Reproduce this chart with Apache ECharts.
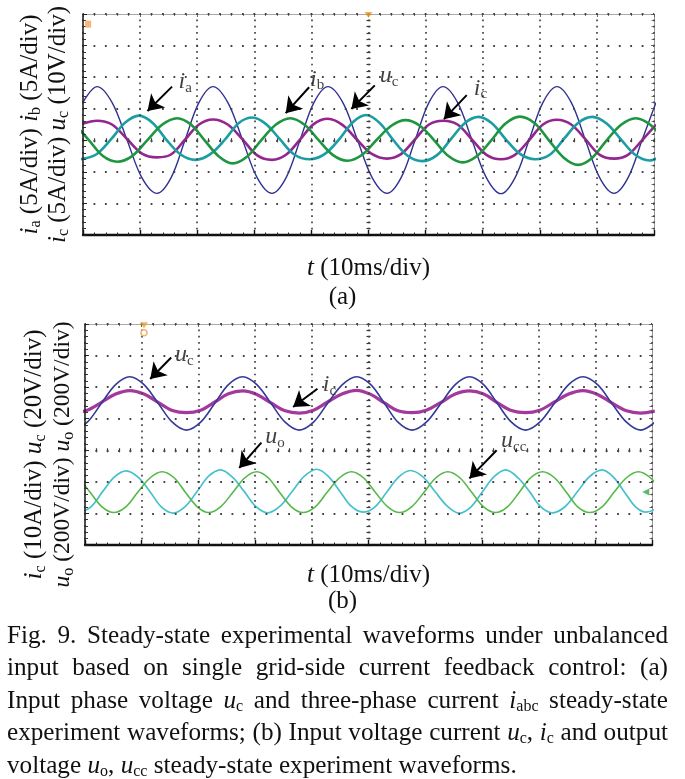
<!DOCTYPE html>
<html><head><meta charset="utf-8">
<script src="https://cdn.jsdelivr.net/npm/echarts@6/dist/echarts.min.js"></script>
<style>
html,body{margin:0;padding:0;background:#fff;}
#wrap{position:relative;width:685px;height:779px;overflow:hidden;background:#fff;}
#chart{position:absolute;left:0;top:0;width:685px;height:779px;}
#cap{position:absolute;left:7px;top:618.5px;width:661px;font-family:'Liberation Serif','Times New Roman',serif;font-size:25.2px;line-height:32.5px;color:#111;}
#cap .ln{white-space:nowrap;height:32.5px;}
#cap .j{text-align:justify;text-align-last:justify;}
#cap sub{font-size:16px;line-height:0;vertical-align:baseline;position:relative;top:3px;}
</style></head><body>
<div id="wrap"><div id="chart"></div>
<div id="cap">
<div class="ln j">Fig. 9. Steady-state experimental waveforms under unbalanced</div>
<div class="ln j">input based on single grid-side current feedback control: (a)</div>
<div class="ln j">Input phase voltage <i>u</i><sub>c</sub> and three-phase current <i>i</i><sub>abc</sub> steady-state</div>
<div class="ln j">experiment waveforms; (b) Input voltage current <i>u</i><sub>c</sub>, <i>i</i><sub>c</sub> and output</div>
<div class="ln">voltage <i>u</i><sub>o</sub>, <i>u</i><sub>cc</sub> steady-state experiment waveforms.</div>
</div></div>
<script>
// ---- data: time in ms (10 ms/div), amplitude in screen divisions ----
const ucA = [[-0.1,1.18],[2.45,1.70],[5.08,1.20],[7.71,0.01],[10.33,-1.19],[12.96,-1.68],[15.41,-1.19],[17.86,0.0],[20.32,1.20],[22.77,1.70],[25.35,1.20],[27.94,0.01],[30.52,-1.19],[33.10,-1.68],[35.55,-1.19],[38.0,0],[40.46,1.20],[42.91,1.70],[45.49,1.20],[48.08,0.0],[50.66,-1.19],[53.24,-1.68],[55.69,-1.19],[58.15,0],[60.6,1.20],[63.05,1.70],[65.59,1.2],[68.13,0],[70.66,-1.19],[73.20,-1.69],[75.65,-1.19],[78.11,0],[80.56,1.2],[83.01,1.70],[85.5,1.2],[88.0,0],[90.5,-1.19],[92.99,-1.68],[95.44,-1.19],[97.9,0],[100.35,1.2]];
const icA = [[-0.1,0.52],[2.45,0.62],[5.08,0.50],[7.71,0.04],[10.33,-0.42],[12.96,-0.54],[15.41,-0.45],[17.86,0.02],[20.32,0.50],[22.77,0.66],[25.35,0.50],[27.94,0.03],[30.52,-0.48],[33.10,-0.62],[35.55,-0.46],[38.0,0.02],[40.46,0.52],[42.91,0.68],[45.49,0.48],[48.08,0.0],[50.66,-0.44],[53.24,-0.58],[55.69,-0.44],[58.15,0.03],[60.6,0.50],[63.05,0.62],[65.59,0.50],[68.13,0.02],[70.66,-0.46],[73.20,-0.60],[75.65,-0.46],[78.11,0.0],[80.56,0.50],[83.01,0.65],[85.5,0.50],[88.0,0.03],[90.5,-0.46],[92.99,-0.58],[95.44,-0.46],[97.9,0.0],[100.35,0.50]];
const iaA = [[-0.4,-0.60],[2.3,-0.45],[5.0,0.05],[7.4,0.56],[9.8,0.78],[12.2,0.55],[14.5,0.04],[17.1,-0.45],[19.7,-0.62],[22.3,-0.44],[25.0,0.05],[27.3,0.55],[29.7,0.72],[32.0,0.52],[34.4,0.05],[37.0,-0.45],[39.7,-0.60],[42.3,-0.44],[45.0,0.06],[47.3,0.58],[49.6,0.80],[51.9,0.56],[54.2,0.04],[56.8,-0.48],[59.4,-0.66],[62.0,-0.47],[64.5,0.05],[66.9,0.55],[69.3,0.74],[71.6,0.54],[74.0,0.04],[76.6,-0.44],[79.2,-0.60],[81.8,-0.45],[84.3,0.06],[86.7,0.55],[89.2,0.74],[91.7,0.53],[94.2,0.03],[96.7,-0.46],[99.2,-0.64],[101.6,-0.46]];
const ibA = [[-4.1,0.70],[-1.6,0.50],[0.95,0.02],[3.5,-0.50],[6.0,-0.68],[8.6,-0.50],[11.2,-0.01],[13.9,0.50],[16.5,0.70],[18.9,0.50],[21.3,0.0],[23.8,-0.51],[26.2,-0.73],[28.7,-0.52],[31.2,0.0],[33.8,0.50],[36.3,0.70],[38.8,0.49],[41.3,0.0],[43.8,-0.47],[46.3,-0.65],[48.9,-0.46],[51.4,0.01],[54.0,0.46],[56.5,0.64],[59.0,0.46],[61.5,0.0],[64.0,-0.50],[66.5,-0.70],[69.0,-0.50],[71.5,0.0],[74.0,0.53],[76.5,0.75],[79.1,0.54],[81.6,0.0],[84.2,-0.55],[86.7,-0.78],[89.2,-0.55],[91.7,0.0],[94.3,0.50],[96.8,0.70],[99.3,0.50],[101.8,0.0]];

const ucB = [[-2.1,0.64],[0.4,0.89],[2.9,1.49],[5.4,2.08],[7.9,2.33],[10.4,2.08],[12.9,1.49],[15.4,0.89],[17.9,0.64],[20.4,0.89],[22.9,1.49],[25.3,2.08],[27.8,2.33],[30.3,2.08],[32.8,1.49],[35.3,0.89],[37.8,0.64],[40.3,0.89],[42.8,1.49],[45.4,2.08],[47.9,2.33],[50.4,2.08],[52.8,1.49],[55.2,0.89],[57.7,0.64],[60.2,0.89],[62.8,1.49],[65.3,2.08],[67.8,2.33],[70.3,2.08],[72.7,1.49],[75.2,0.89],[77.7,0.64],[80.2,0.89],[82.8,1.49],[85.3,2.08],[87.8,2.33],[90.4,2.08],[92.9,1.49],[95.5,0.89],[98.0,0.64],[100.5,0.89]];
const icB = [[-2.1,1.19],[0.4,1.27],[2.9,1.52],[5.4,1.78],[7.9,1.89],[10.4,1.78],[12.9,1.52],[15.4,1.26],[17.9,1.19],[20.4,1.27],[22.9,1.53],[25.3,1.79],[27.8,1.88],[30.3,1.77],[32.8,1.50],[35.3,1.25],[37.8,1.18],[40.3,1.27],[42.8,1.53],[45.4,1.79],[47.9,1.90],[50.4,1.77],[52.8,1.50],[55.2,1.25],[57.7,1.19],[60.2,1.27],[62.8,1.52],[65.3,1.78],[67.8,1.88],[70.3,1.78],[72.7,1.51],[75.2,1.26],[77.7,1.19],[80.2,1.27],[82.8,1.53],[85.3,1.78],[87.8,1.89],[90.4,1.77],[92.9,1.50],[95.5,1.25],[98.0,1.18],[100.5,1.24]];
const uoB = [[-1.1,-1.97],[1.0,-1.80],[3.1,-1.31],[5.2,-0.84],[7.3,-0.65],[9.4,-0.86],[11.5,-1.32],[13.5,-1.80],[15.6,-1.99],[17.7,-1.78],[19.8,-1.30],[21.8,-0.82],[23.9,-0.62],[26.0,-0.85],[28.1,-1.31],[30.1,-1.78],[32.2,-1.98],[34.4,-1.77],[36.6,-1.29],[38.7,-0.82],[40.9,-0.60],[43.0,-0.84],[45.0,-1.31],[47.0,-1.78],[49.0,-1.96],[51.1,-1.80],[53.2,-1.33],[55.3,-0.85],[57.4,-0.64],[59.6,-0.84],[61.7,-1.30],[63.9,-1.77],[66.0,-1.99],[68.1,-1.79],[70.1,-1.31],[72.2,-0.83],[74.2,-0.62],[76.3,-0.86],[78.4,-1.31],[80.4,-1.79],[82.5,-1.98],[84.7,-1.78],[86.9,-1.30],[89.0,-0.83],[91.2,-0.62],[93.2,-0.85],[95.1,-1.31],[97.1,-1.79],[99.0,-1.96],[101.1,-1.80]];
const uccB = [[-3.3,-0.68],[-1.2,-0.87],[0.9,-1.33],[3.0,-1.79],[5.1,-1.97],[7.2,-1.79],[9.3,-1.33],[11.5,-0.87],[13.6,-0.68],[15.7,-0.87],[17.7,-1.33],[19.8,-1.79],[21.8,-1.97],[23.9,-1.79],[26.1,-1.33],[28.2,-0.87],[30.3,-0.68],[32.3,-0.87],[34.3,-1.33],[36.4,-1.79],[38.4,-1.97],[40.6,-1.79],[42.7,-1.33],[44.9,-0.87],[47.0,-0.68],[49.1,-0.87],[51.2,-1.33],[53.4,-1.79],[55.5,-1.97],[57.6,-1.79],[59.8,-1.33],[61.9,-0.87],[64.0,-0.68],[66.1,-0.87],[68.2,-1.33],[70.3,-1.79],[72.4,-1.97],[74.5,-1.79],[76.6,-1.33],[78.6,-0.87],[80.7,-0.68],[82.8,-0.87],[84.9,-1.33],[86.9,-1.79],[89.0,-1.97],[91.2,-1.79],[93.3,-1.33],[95.5,-0.87],[97.6,-0.68],[99.7,-0.87],[101.8,-1.33]];

// time axis: 0..100 ms (10 ms/div); vertical: -3..4 divisions
const timeRange = [0, 100];
const divRange = [-3, 4];

// annotation labels: text anchor, arrow tail, arrow tip (data coordinates)
const annotA = [
  {text:'{it|i}{sb|a}', at:[17.9,1.86], from:[15.6,1.70], to:[11.3,0.93]},
  {text:'{it|i}{sb|b}', at:[41.0,1.93], from:[39.6,1.68], to:[35.5,0.86]},
  {text:'{it|u}{sb|c}', at:[53.6,2.05], from:[51.1,1.74], to:[47.0,0.99]},
  {text:'{it|i}{sb|c}', at:[69.6,1.64], from:[67.2,1.43], to:[63.2,0.67]}
];
const annotB = [
  {text:'{it|u}{sb|c}', at:[17.5,3.03], from:[15.2,2.94], to:[11.5,2.26]},
  {text:'{it|i}{sb|c}', at:[43.1,2.08], from:[41.0,1.95], to:[36.7,1.37]},
  {text:'{it|u}{sb|o}', at:[33.5,0.42], from:[31.1,0.24], to:[27.2,-0.56]},
  {text:'{it|u}{sb|cc}', at:[75.6,0.30], from:[72.6,0.00], to:[67.8,-0.89]}
];
// oscilloscope markers (data coordinates)
const markersA = [{v:[0.9,3.68], kind:'trig'}, {v:[50,3.97], kind:'top'}];
const markersB = [{v:[10.4,3.96], kind:'top'}, {v:[10.4,3.72], kind:'ring'}, {v:[98.9,-1.32], kind:'gnd'}];

const FONT = "'Liberation Serif','Times New Roman',serif";
const GRIDS = [
  {left:83, top:14, width:571, height:221},
  {left:85, top:324, width:567, height:221}
];

function rich(base, sub, base2) {
  const b2 = base2 || base;
  return {
    it: {fontFamily: FONT, fontSize: base, fontStyle: 'italic', lineHeight: base + 3, color: '#111'},
    sb: {fontFamily: FONT, fontSize: sub, lineHeight: sub, verticalAlign: 'bottom', color: '#111'},
    it2: {fontFamily: FONT, fontSize: b2, fontStyle: 'italic', lineHeight: base + 3, color: '#111'},
    s2: {fontFamily: FONT, fontSize: b2, lineHeight: base + 3, color: '#111'}
  };
}

const xAxes = [], yAxes = [];
function buildAxes(g, yName, yGap, yPad, xGap, yRich) {
  const G = GRIDS[g];
  const dv = G.height / 35, dh = G.width / 50;
  xAxes.push({
    gridIndex: g, type: 'value', min: timeRange[0], max: timeRange[1], interval: 10, position: 'bottom',
    axisLine: {onZero: false, lineStyle: {color: '#111', width: 2.4}},
    axisTick: {inside: true, length: 5, lineStyle: {color: '#111', width: 1.4}},
    minorTick: {show: true, splitNumber: 5, length: 2.5, lineStyle: {color: '#222', width: 1}},
    axisLabel: {show: false},
    splitLine: {show: true, lineStyle: {color: '#444', width: 1.7, type: [1.7, dv - 1.7], dashOffset: 0.85}},
    name: '{it|t} (10ms/div)', nameLocation: 'middle', nameGap: xGap,
    nameTextStyle: {fontFamily: FONT, fontSize: 25, color: '#111', lineHeight: 28, rich: rich(25, 16)},
    z: 5
  });
  xAxes.push({
    gridIndex: g, type: 'value', min: timeRange[0], max: timeRange[1], interval: 10, position: 'top',
    axisLine: {onZero: false, lineStyle: {color: '#aaa', width: 1}},
    axisTick: {inside: true, length: 3, lineStyle: {color: '#666'}},
    minorTick: {show: true, splitNumber: 5, length: 2, lineStyle: {color: '#777'}},
    axisLabel: {show: false}, splitLine: {show: false}
  });
  xAxes.push({
    gridIndex: g, type: 'value', min: timeRange[0], max: timeRange[1], interval: 10, position: 'bottom',
    offset: -(G.height * 3 / 7 - 2),
    axisLine: {show: false, onZero: false},
    axisTick: {inside: true, length: 4, lineStyle: {color: '#333', width: 1.2}},
    minorTick: {show: true, splitNumber: 5, length: 4, lineStyle: {color: '#333', width: 1.2}},
    axisLabel: {show: false}, splitLine: {show: false}
  });
  yAxes.push({
    gridIndex: g, type: 'value', min: divRange[0], max: divRange[1], interval: 1, position: 'left',
    axisLine: {onZero: false, lineStyle: {color: '#222', width: 1.6}},
    axisTick: {inside: true, length: 4, lineStyle: {color: '#222'}},
    minorTick: {show: true, splitNumber: 5, length: 3, lineStyle: {color: '#333'}},
    axisLabel: {show: false},
    splitLine: {show: true, lineStyle: {color: '#444', width: 1.8, type: [1.8, dh - 1.8], dashOffset: 0.9}},
    name: yName, nameLocation: 'middle', nameRotate: 90, nameGap: yGap,
    nameTextStyle: {fontFamily: FONT, fontSize: 25, color: '#111', lineHeight: 28, padding: yPad, rich: yRich},
    z: 5
  });
  yAxes.push({
    gridIndex: g, type: 'value', min: divRange[0], max: divRange[1], interval: 1, position: 'right',
    axisLine: {onZero: false, lineStyle: {color: '#999', width: 1}},
    axisTick: {inside: true, length: 3, lineStyle: {color: '#666'}},
    minorTick: {show: true, splitNumber: 5, length: 2.5, lineStyle: {color: '#777'}},
    axisLabel: {show: false}, splitLine: {show: false}
  });
  yAxes.push({
    gridIndex: g, type: 'value', min: divRange[0], max: divRange[1], interval: 1, position: 'left',
    offset: -(G.width / 2 - 2),
    axisLine: {show: false, onZero: false},
    axisTick: {inside: true, length: 4, lineStyle: {color: '#333', width: 1.2}},
    minorTick: {show: true, splitNumber: 5, length: 4, lineStyle: {color: '#333', width: 1.2}},
    axisLabel: {show: false}, splitLine: {show: false}
  });
}
buildAxes(0, '{it|i}{sb|a} (5A/div) {it|i}{sb|b} (5A/div)\n{it|i}{sb|c} (5A/div) {it|u}{sb|c} (10V/div)', 11, [0, 0, 0, 0], 19, rich(25, 16));
buildAxes(1, '{it|i}{sb|c} (10A/div) {it|u}{sb|c} (20V/div)\n{it2|u}{sb|o}{s2| (200V/div) }{it2|u}{sb|o}{s2| (200V/div)}', 8, [0, 40, 0, 0], 16, rich(25.5, 16, 23.5));

function trace(name, data, g, color, width) {
  return {name, type: 'line', xAxisIndex: g * 3, yAxisIndex: g * 3, data, symbol: 'none', showSymbol: false,
    smooth: 0.35, lineStyle: {color, width, join: 'round'}, z: 3, silent: true, animation: false, clip: true};
}
function annotations(list, g) {
  return {
    type: 'scatter', xAxisIndex: g * 3, yAxisIndex: g * 3, symbolSize: 1, silent: true, animation: false, z: 6,
    itemStyle: {color: 'rgba(0,0,0,0)'},
    label: {show: true, position: 'inside', rich: rich(24, 15), formatter: p => list[p.dataIndex].text},
    data: list.map(a => a.at),
    markLine: {
      silent: true, animation: false, symbol: ['none', 'arrow'], symbolSize: 15,
      lineStyle: {color: '#000', width: 2, type: 'solid'}, label: {show: false},
      data: list.map(a => [{coord: a.from}, {coord: a.to}])
    }
  };
}
function markers(list, g) {
  const style = {
    trig: {symbol: 'rect', symbolSize: [6, 7], itemStyle: {color: '#f4a35a'}},
    top: {symbol: 'triangle', symbolSize: [8, 6], symbolRotate: 180, itemStyle: {color: '#f39c2d'}},
    ring: {symbol: 'circle', symbolSize: 6, itemStyle: {color: '#fff', borderColor: '#f0a050', borderWidth: 1.5}},
    gnd: {symbol: 'triangle', symbolSize: [7, 7], symbolRotate: 90, itemStyle: {color: '#2eaa4a'}}
  };
  return {
    type: 'scatter', xAxisIndex: g * 3, yAxisIndex: g * 3, silent: true, animation: false, z: 7,
    data: list.map(m => Object.assign({value: m.v}, style[m.kind]))
  };
}

const chart = echarts.init(document.getElementById('chart'), null, {renderer: 'canvas'});
chart.setOption({
  animation: false,
  backgroundColor: '#fff',
  grid: GRIDS.map(G => Object.assign({containLabel: false}, G)),
  xAxis: xAxes,
  yAxis: yAxes,
  graphic: [
    {type: 'text', left: 'center', top: 285, style: {text: '(a)', font: '25px ' + FONT, fill: '#111'}},
    {type: 'text', left: 'center', top: 589, style: {text: '(b)', font: '25px ' + FONT, fill: '#111'}}
  ],
  series: [
    trace('u_c', ucA, 0, '#2e3192', 1.4),
    trace('i_c', icA, 0, '#93278f', 2.6),
    trace('i_a', iaA, 0, '#1b9ea3', 2.6),
    trace('i_b', ibA, 0, '#1e9640', 2.6),
    trace('i_c', icB, 1, '#a3399d', 3.2),
    trace('u_c', ucB, 1, '#333a9a', 1.6),
    trace('u_o', uoB, 1, '#46c1cc', 1.7),
    trace('u_cc', uccB, 1, '#55b848', 1.6),
    annotations(annotA, 0),
    annotations(annotB, 1),
    markers(markersA, 0),
    markers(markersB, 1)
  ]
});
</script></body></html>
